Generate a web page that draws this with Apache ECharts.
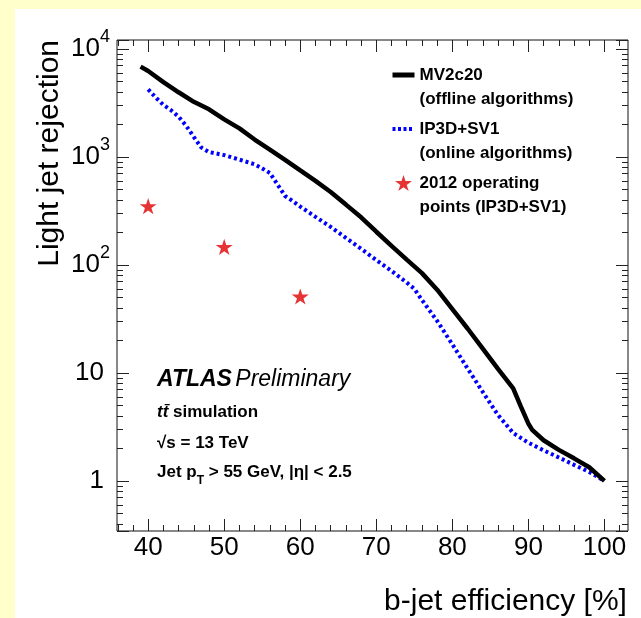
<!DOCTYPE html>
<html><head><meta charset="utf-8">
<script src="https://cdn.jsdelivr.net/npm/echarts@6/dist/echarts.min.js"></script>
<style>
html,body{margin:0;padding:0;background:#FFFFCC;width:641px;height:618px;overflow:hidden}
#c{position:absolute;left:15px;top:9px;width:626px;height:609px;background:#ffffff}
</style></head><body><div id="c"></div>
<script>
// ---- data ----
const mv2c20Eff = [39,40,42,44,46,48,50,52,54,56,58,60,62,64,66,68,70,72,74,76,78,80,82,84,86,88,89,90,90.5,92,94,96,98,100];
const mv2c20Rej = [6860,6250,4930,3970,3240,2760,2230,1840,1450,1170,940,750,600,474,362,276,203,150,112,84,59,39,25.8,16.8,10.9,7.2,4.9,3.4,2.97,2.38,1.94,1.62,1.34,1.0];

const ip3dEff = [40,41,42,43,44,45,46,47,48,50,52,54,55,56,57,58,59,60,62,64,66,68,70,72,74,75,76,78,80,82,84,86,88,90,92,94,96,98,100];
const ip3dRej = [4220,3550,3030,2710,2360,1940,1530,1220,1110,1040,944,855,783,711,556,435,391,347,279,225,178,141,111,88,68.7,60,47.4,30.3,18.4,11.0,6.67,4.08,2.78,2.26,1.92,1.65,1.41,1.21,1.0];

const opEff = [40,50,60];
const opRej = [350,147,51];

const xMajorTicks = [40,50,60,70,80,90,100];
const xMinorTicks = [36,38,42,44,46,48,52,54,56,58,62,64,66,68,72,74,76,78,82,84,86,88,92,94,96,98,102];
const yMinorMantissas = [2,3,4,5,6,7,8,9];
const yDecades = [-1,0,1,2,3];

const seriesNames = ['MV2c20','IP3D+SV1','2012 operating points (IP3D+SV1)'];
const legendLabels = {
  'MV2c20': '\nMV2c20\n(offline algorithms)',
  'IP3D+SV1': '\nIP3D+SV1\n(online algorithms)',
  '2012 operating points (IP3D+SV1)': '\n2012 operating\npoints (IP3D+SV1)'
};

// ---- axis ranges ----
const xMin = 35.9, xMax = 103.1;
const yMin = 0.344, yMax = 12100;

const FONT = 'Liberation Sans, Arial, Helvetica, sans-serif';
const zip = (a, b) => a.map((v, i) => [v, b[i]]);

const yMinorLog = [];
yDecades.forEach(k => yMinorMantissas.forEach(m => {
  const v = m * Math.pow(10, k);
  if (v >= yMin && v <= yMax) yMinorLog.push(Math.log10(v));
}));

const star = 'path://M0,-10L2.245,-3.09L9.511,-3.09L3.633,1.18L5.878,8.09L0,3.82L-5.878,8.09L-3.633,1.18L-9.511,-3.09L-2.245,-3.09Z';

const tickStyle = {color:'#222', width:1};
function xAxisDef(pos, ticks, len, labels, extra) {
  return Object.assign({
    type:'value', min:xMin, max:xMax, position:pos,
    axisLine:{show:false, onZero:false}, splitLine:{show:false},
    axisTick:{show:true, inside:true, length:len, customValues:ticks, lineStyle:tickStyle},
    axisLabel: labels ? {show:true, customValues:ticks, margin:4, fontSize:26, color:'#000', fontFamily:FONT} : {show:false}
  }, extra || {});
}
function yMinorAxis(pos) {
  return {
    type:'value', min:Math.log10(yMin), max:Math.log10(yMax), position:pos,
    axisLine:{show:false, onZero:false}, splitLine:{show:false}, axisLabel:{show:false},
    axisTick:{show:true, inside:true, length:6, customValues:yMinorLog, lineStyle:tickStyle}
  };
}

const chart = echarts.init(document.getElementById('c'), null, {renderer:'canvas'});
chart.setOption({
  animation:false,
  backgroundColor:'#ffffff',
  textStyle:{fontFamily:FONT},
  grid:{left:102, right:13, top:31, bottom:87, show:true, borderColor:'#111', borderWidth:1,
        backgroundColor:'transparent', containLabel:false, outerBoundsMode:'none'},
  xAxis:[
    xAxisDef('bottom', xMajorTicks, 12, true, {
      name:'b-jet efficiency [%]', nameLocation:'middle', nameGap:56,
      nameTextStyle:{fontSize:30, color:'#000', fontFamily:FONT, padding:[0,0,0,266]}
    }),
    xAxisDef('bottom', xMinorTicks, 6, false),
    xAxisDef('top', xMajorTicks, 12, false),
    xAxisDef('top', xMinorTicks, 6, false)
  ],
  yAxis:[
    {
      type:'log', logBase:10, min:yMin, max:yMax, position:'left',
      axisLine:{show:false, onZero:false}, splitLine:{show:false},
      axisTick:{show:true, inside:true, length:12, lineStyle:tickStyle},
      axisLabel:{
        margin:7, color:'#000', fontSize:26, fontFamily:FONT,
        formatter:function(v){
          const l = Math.log10(v), e = Math.round(l);
          if (Math.abs(l - e) > 0.01) return '';
          if (e === 0) return '{p|1}';
          if (e === 1) return '{p|10}';
          return '{b|10}{s|' + e + '}';
        },
        rich:{
          p:{fontSize:26, color:'#000', fontFamily:FONT, padding:[0,6,0,0]},
          b:{fontSize:26, color:'#000', fontFamily:FONT},
          s:{fontSize:18, color:'#000', fontFamily:FONT, padding:[0,0,24,0]}
        }
      },
      name:'Light jet rejection', nameLocation:'end', nameGap:0, nameRotate:90,
      nameTextStyle:{fontSize:30, color:'#000', fontFamily:FONT, align:'right', verticalAlign:'bottom', padding:[0,0,52,0]}
    },
    {
      type:'log', logBase:10, min:yMin, max:yMax, position:'right',
      axisLine:{show:false, onZero:false}, splitLine:{show:false}, axisLabel:{show:false},
      axisTick:{show:true, inside:true, length:12, lineStyle:tickStyle}
    },
    yMinorAxis('left'),
    yMinorAxis('right')
  ],
  legend:{
    orient:'vertical', left:375, top:30, padding:0,
    itemWidth:22, itemHeight:16, itemGap:-18,
    data:[
      {name:seriesNames[0], itemStyle:{color:'transparent', opacity:0, borderWidth:0}, lineStyle:{color:'#000', width:5}},
      {name:seriesNames[1], itemStyle:{color:'transparent', opacity:0, borderWidth:0}, lineStyle:{color:'#0000ff', width:4, type:[3,2.5]}},
      {name:seriesNames[2]}
    ],
    formatter:function(n){ return legendLabels[n]; },
    textStyle:{fontSize:17, fontWeight:'bold', color:'#000', fontFamily:FONT, lineHeight:24}
  },
  series:[
    {name:seriesNames[0], type:'line', xAxisIndex:0, yAxisIndex:0, data:zip(mv2c20Eff, mv2c20Rej),
     symbol:'none', smooth:false, lineStyle:{color:'#000', width:4.5}, itemStyle:{color:'#000'}, z:4},
    {name:seriesNames[1], type:'line', xAxisIndex:0, yAxisIndex:0, data:zip(ip3dEff, ip3dRej),
     symbol:'none', smooth:false, lineStyle:{color:'#0000ff', width:4, type:[3,3]}, itemStyle:{color:'#0000ff'}, z:3},
    {name:seriesNames[2], type:'scatter', xAxisIndex:0, yAxisIndex:0, data:zip(opEff, opRej),
     symbol:star, symbolSize:17, symbolKeepAspect:true, itemStyle:{color:'#e00000'}, z:5}
  ],
  graphic:[
    {type:'text', left:142, top:359, style:{
      text:'{a|ATLAS} {p|Preliminary}',
      rich:{a:{fontSize:23, fontWeight:'bold', fontStyle:'italic', fill:'#000', fontFamily:FONT},
            p:{fontSize:23, fontStyle:'italic', fill:'#000', fontFamily:FONT}}
    }},
    {type:'text', left:142, top:395, style:{
      text:'{i|tt\u0304}{b| simulation}',
      rich:{i:{fontSize:17, fontWeight:'bold', fontStyle:'italic', fill:'#000', fontFamily:FONT},
            b:{fontSize:17, fontWeight:'bold', fill:'#000', fontFamily:FONT}}
    }},
    {type:'text', left:142, top:426, style:{
      text:'\u221As = 13 TeV', fontSize:17, fontWeight:'bold', fill:'#000', fontFamily:FONT
    }},
    {type:'text', left:142, top:455, style:{
      text:'{b|Jet p}{t|T}{b| > 55 GeV, |\u03B7| < 2.5}',
      rich:{b:{fontSize:17, fontWeight:'bold', fill:'#000', fontFamily:FONT},
            t:{fontSize:12, fontWeight:'bold', fill:'#000', fontFamily:FONT, padding:[16,0,0,0]}}
    }}
  ]
});
</script></body></html>
